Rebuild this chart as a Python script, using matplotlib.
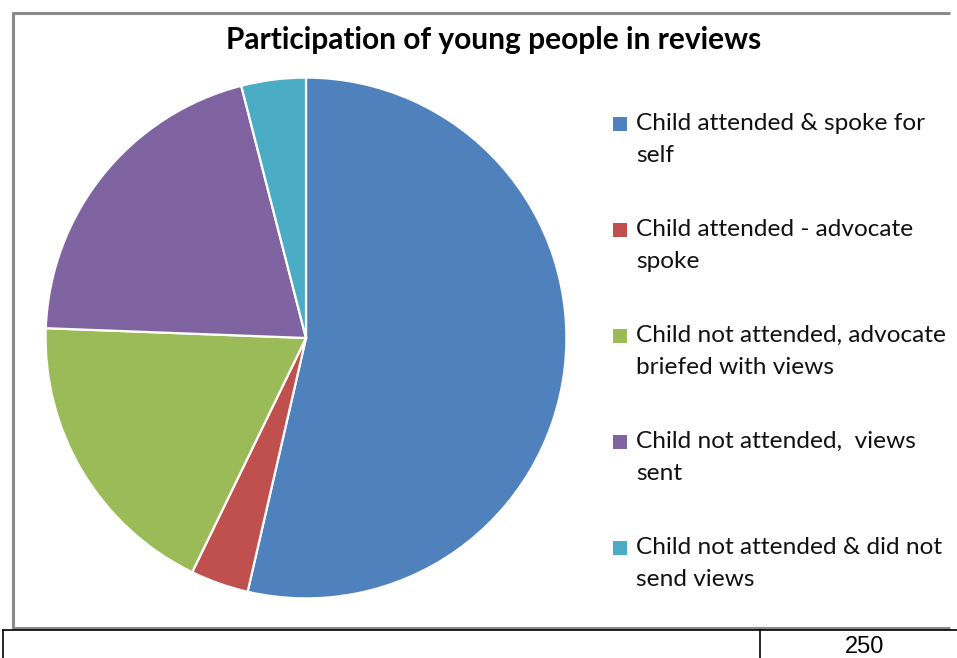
import matplotlib.pyplot as plt
from matplotlib.patches import Rectangle
from matplotlib.lines import Line2D

# data (share of reviews, %)
labels = ["Child attended & spoke for\nself",
          "Child attended - advocate\nspoke",
          "Child not attended, advocate\nbriefed with views",
          "Child not attended,  views\nsent",
          "Child not attended & did not\nsend views"]
shares = [53.6, 3.6, 18.4, 20.4, 4.0]
colors = ["#4F81BD", "#C0504D", "#9BBB59", "#8064A2", "#4BACC6"]
title = "Participation of young people in reviews"
page_number = "250"

W, H = 957, 658
fig = plt.figure(figsize=(W / 100, H / 100), dpi=100)

def px(x, y):
    # pixel (from top-left) -> figure fraction
    return x / W, 1 - y / H

# chart frame (grey border, right edge off page) - three separate sides
frame = dict(transform=fig.transFigure, color="#8a8a8a", linewidth=2.2,
             solid_capstyle="butt")
fig.add_artist(Line2D([12 / W, 950 / W], [1 - 13 / H] * 2, **frame))
fig.add_artist(Line2D([12 / W, 950 / W], [1 - 628 / H] * 2, **frame))
fig.add_artist(Line2D([13 / W] * 2, [1 - 12 / H, 1 - 629 / H], **frame))

# pie
cx, cy, r = 306, 338, 263
ax = fig.add_axes([(cx - r) / W, (H - cy - r) / H, 2 * r / W, 2 * r / H])
ax.pie(shares, colors=colors, startangle=90, counterclock=False, radius=1,
       wedgeprops=dict(edgecolor="white", linewidth=1.6))
ax.set_xlim(-1.01, 1.01)
ax.set_ylim(-1.01, 1.01)
ax.set_aspect("equal")
ax.axis("off")

# title
fig.text(*px(494, 40), title, ha="center", va="center",
         fontsize=21.5, fontweight="bold", family="Lato")

# legend
for i, (lab, col) in enumerate(zip(labels, colors)):
    y0 = 124 + i * 106
    fig.add_artist(Rectangle(px(613, y0 + 7), 14 / W, 14 / H,
                             transform=fig.transFigure, facecolor=col,
                             edgecolor="none"))
    fig.text(*px(636, y0 - 11), lab, ha="left", va="top", fontsize=17.6,
             family="Lato", color="#111111", linespacing=1.62)

# page table below the chart
fig.add_artist(Line2D([3 / W, 1], [1 - 630 / H] * 2, transform=fig.transFigure,
                      color="black", linewidth=1.2))
for xv in (3, 760):
    fig.add_artist(Line2D([xv / W] * 2, [1 - 630 / H, 0],
                          transform=fig.transFigure, color="black",
                          linewidth=1.2))
fig.text(*px(865, 647), page_number, ha="center", va="center",
         fontsize=17, family="Liberation Sans")

fig.savefig("out.png", dpi=100)
